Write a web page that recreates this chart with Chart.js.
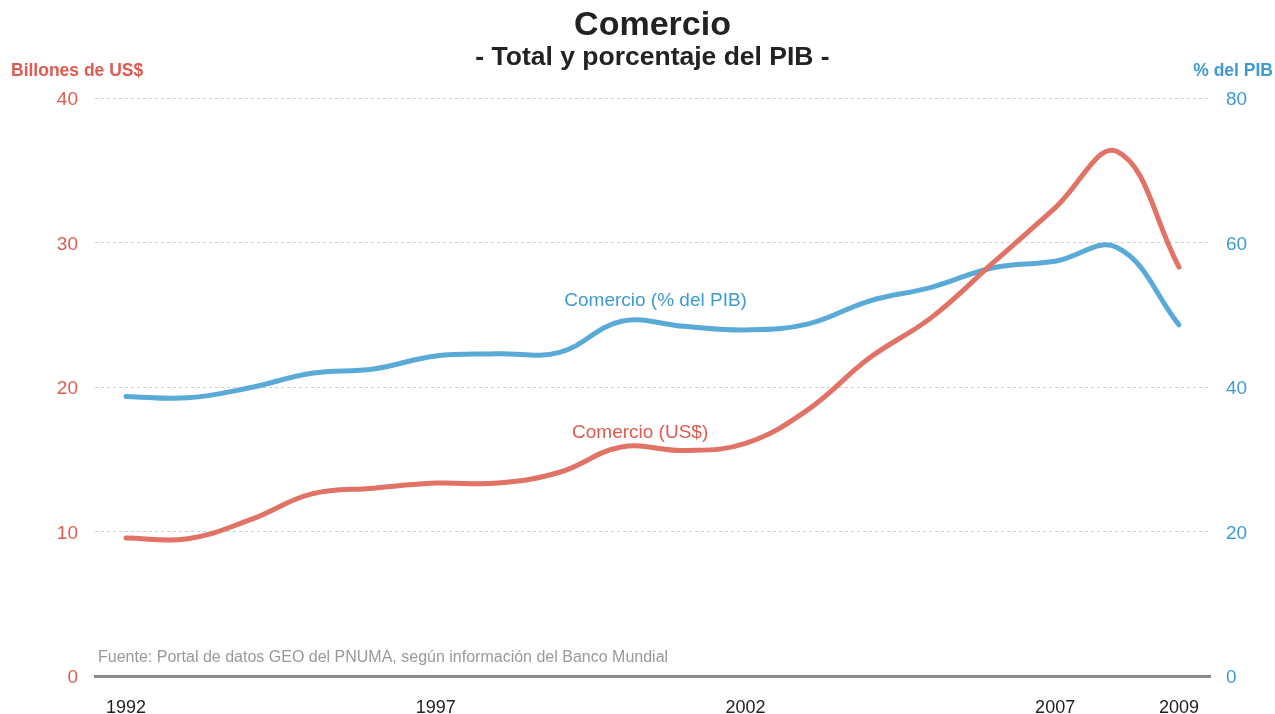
<!DOCTYPE html>
<html>
<head>
<meta charset="utf-8">
<script src="https://cdn.jsdelivr.net/npm/chart.js@4"></script>
<style>
  html, body { margin: 0; padding: 0; background: #fff; }
  #wrap { width: 1275px; height: 714px; }
</style>
</head>
<body>
<div id="wrap"><canvas id="grafica"></canvas></div>
<script>
// datos
var anios = ['1992','1993','1994','1995','1996','1997','1998','1999','2000','2001','2002','2003','2004','2005','2006','2007','2008','2009'];
var comercioUSD = [9.55, 9.5, 10.8, 12.6, 13.0, 13.35, 13.35, 14.1, 15.85, 15.6, 16.1, 18.4, 22.0, 24.8, 28.6, 32.4, 36.3, 28.3];
var comercioPIB = [38.7, 38.5, 39.9, 41.9, 42.5, 44.3, 44.6, 44.8, 49.1, 48.4, 47.9, 48.7, 51.9, 53.8, 56.5, 57.4, 59.3, 48.6];
var aniosVisibles = ['1992','1997','2002','2007','2009'];
var ticksIzq = [0, 10, 20, 30, 40];
var ticksDer = [0, 20, 40, 60, 80];

var rojo = '#e07266';
var rojoTexto = '#e05a52';
var azul = '#5aaad7';
var azulTexto = '#3d9bd3';
var fuente = "'Liberation Sans', Arial, sans-serif";

const textos = {
  id: 'textos',
  afterDraw(chart) {
    const ctx = chart.ctx;
    const area = chart.chartArea;
    const x = chart.scales.x;
    const y = chart.scales.y;
    const y2 = chart.scales.y2;
    const cx = (area.left + area.right) / 2;
    ctx.save();
    ctx.textBaseline = 'middle';
    ctx.textAlign = 'center';
    ctx.fillStyle = '#222';
    ctx.font = 'bold 34px ' + fuente;
    ctx.fillText('Comercio', cx, 26);
    ctx.font = 'bold 26.5px ' + fuente;
    ctx.fillText('- Total y porcentaje del PIB -', cx, 58);

    ctx.font = 'bold 17.5px ' + fuente;
    ctx.textAlign = 'left';
    ctx.fillStyle = rojoTexto;
    ctx.fillText('Billones de US$', 11, 71);
    ctx.textAlign = 'right';
    ctx.fillStyle = azulTexto;
    ctx.fillText('% del PIB', 1273, 71);

    ctx.font = '19px ' + fuente;
    ctx.textAlign = 'center';
    ctx.fillStyle = azulTexto;
    ctx.fillText('Comercio (% del PIB)', x.getPixelForValue(8.55), y2.getPixelForValue(52.0));
    ctx.fillStyle = rojoTexto;
    ctx.fillText('Comercio (US$)', x.getPixelForValue(8.3), y.getPixelForValue(16.85));

    ctx.font = '16px ' + fuente;
    ctx.textAlign = 'left';
    ctx.fillStyle = '#999';
    ctx.fillText('Fuente: Portal de datos GEO del PNUMA, según información del Banco Mundial', area.left + 3, 658);
    ctx.restore();
  }
};

new Chart(document.getElementById('grafica'), {
  type: 'line',
  data: {
    labels: anios,
    datasets: [
      {
        label: 'Comercio (US$)',
        data: comercioUSD,
        yAxisID: 'y',
        borderColor: rojo,
        borderWidth: 5,
        pointRadius: 0,
        tension: 0.4,
        borderCapStyle: 'round',
        fill: false
      },
      {
        label: 'Comercio (% del PIB)',
        data: comercioPIB,
        yAxisID: 'y2',
        borderColor: azul,
        borderWidth: 5,
        pointRadius: 0,
        tension: 0.4,
        borderCapStyle: 'round',
        fill: false
      }
    ]
  },
  options: {
    responsive: true,
    maintainAspectRatio: false,
    animation: false,
    layout: { padding: { top: 98, left: 0, right: 0, bottom: 0 } },
    plugins: {
      legend: { display: false },
      tooltip: { enabled: false }
    },
    scales: {
      x: {
        offset: true,
        grid: { display: false, drawTicks: false },
        border: { display: true, color: '#8a8a8a', width: 3 },
        ticks: {
          autoSkip: false,
          maxRotation: 0,
          padding: 21,
          color: '#222',
          font: { family: fuente, size: 18 },
          callback: function (v, i) {
            return aniosVisibles.indexOf(anios[i]) >= 0 ? anios[i] : '';
          }
        },
        afterFit: function (s) { s.height = 38; }
      },
      y: {
        position: 'left',
        min: 0,
        max: 40,
        afterBuildTicks: function (s) { s.ticks = ticksIzq.map(v => ({ value: v })); },
        grid: {
          color: function (c) { return c.tick.value === 0 ? 'rgba(0,0,0,0)' : '#cfcfcf'; },
          drawTicks: false
        },
        border: { display: false, dash: [3, 3] },
        ticks: {
          padding: 17,
          labelOffset: 2,
          color: rojoTexto,
          font: { family: fuente, size: 19 }
        },
        afterFit: function (s) { s.width = 95; }
      },
      y2: {
        position: 'right',
        min: 0,
        max: 80,
        afterBuildTicks: function (s) { s.ticks = ticksDer.map(v => ({ value: v })); },
        grid: { display: false, drawTicks: false },
        border: { display: false },
        ticks: {
          padding: 16,
          labelOffset: 2,
          color: azulTexto,
          font: { family: fuente, size: 19 }
        },
        afterFit: function (s) { s.width = 65; }
      }
    }
  },
  plugins: [textos]
});
</script>
</body>
</html>
